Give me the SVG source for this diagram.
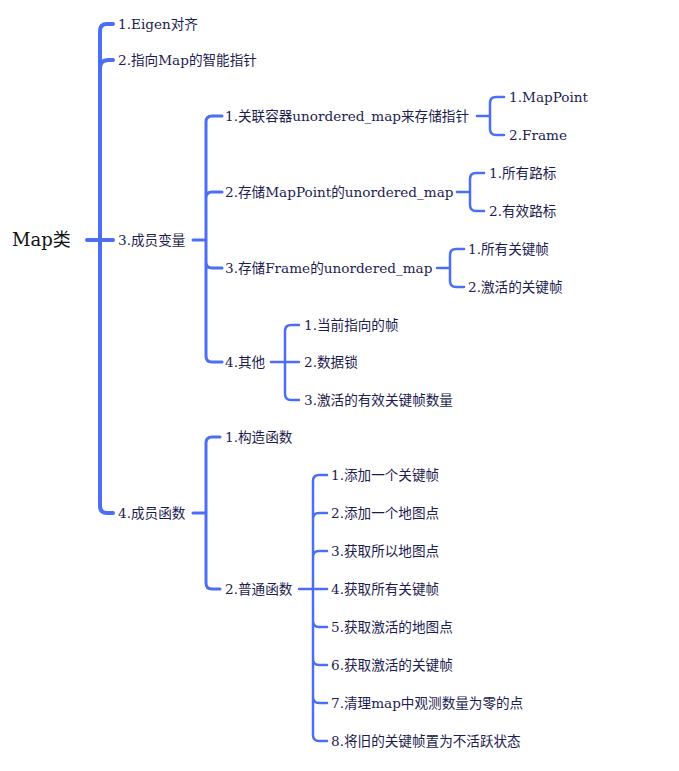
<svg xmlns="http://www.w3.org/2000/svg" width="679" height="771" viewBox="0 0 679 771">
<style>
.t{font-family:"DejaVu Serif","Noto Sans CJK SC",serif;font-size:13.6px;fill:#1c1c50}
.root{font-family:"DejaVu Serif","Noto Sans CJK SC",serif;font-size:18px;fill:#111}
.c{fill:none;stroke:#4c6ef5;stroke-linecap:round}
.w4{stroke-width:4}.w3{stroke-width:3}.w2{stroke-width:2.5}
</style>
<rect width="679" height="771" fill="#fff"/>
<g id="connectors">
<path class="c w4" d="M87,240 H113 M113,24 H107 Q100,24 100,31 V506 Q100,513 107,513 H113 M100,68 Q100,60 108,60 H113"/>
<path class="c w3" d="M193,240 H206 M222,116 H212 Q206,116 206,122 V356 Q206,362 212,362 H222 M206,198 Q206,192 212,192 H222 M206,262 Q206,268 212,268 H222"/>
<path class="c w2" d="M477,116 H490 M504,97 H496 Q490,97 490,103 V129 Q490,135 496,135 H504"/>
<path class="c w2" d="M457,192 H470 M484,173 H476 Q470,173 470,179 V205 Q470,211 476,211 H484"/>
<path class="c w2" d="M437,268 H450 M464,249 H456 Q450,249 450,255 V281 Q450,287 456,287 H464"/>
<path class="c w2" d="M271,362 H299 M299,325 H291 Q285,325 285,331 V394 Q285,400 291,400 H299"/>
<path class="c w3" d="M193,513 H206 M220,437 H212 Q206,437 206,443 V583 Q206,589 212,589 H220"/>
<path class="c w2" d="M299,589 H327 M327,475 H319 Q313,475 313,481 V735 Q313,741 319,741 H327 M313,519 Q313,513 319,513 H327 M313,557 Q313,551 319,551 H327 M313,621 Q313,627 319,627 H327 M313,659 Q313,665 319,665 H327 M313,697 Q313,703 319,703 H327"/>
</g>
<g id="root"><text class="root" x="12" y="246">Map类</text></g>
<g id="n1"><text class="t" x="118" y="29">1.Eigen对齐</text></g>
<g id="n2"><text class="t" x="118" y="65">2.指向Map的智能指针</text></g>
<g id="n3"><text class="t" x="118" y="245">3.成员变量</text></g>
<g id="n3-1"><text class="t" x="225" y="121">1.关联容器unordered_map来存储指针</text></g>
<g id="n3-1-1"><text class="t" x="509" y="102">1.MapPoint</text></g>
<g id="n3-1-2"><text class="t" x="509" y="140">2.Frame</text></g>
<g id="n3-2"><text class="t" x="225" y="197">2.存储MapPoint的unordered_map</text></g>
<g id="n3-2-1"><text class="t" x="489" y="178">1.所有路标</text></g>
<g id="n3-2-2"><text class="t" x="489" y="216">2.有效路标</text></g>
<g id="n3-3"><text class="t" x="225" y="273">3.存储Frame的unordered_map</text></g>
<g id="n3-3-1"><text class="t" x="468" y="254">1.所有关键帧</text></g>
<g id="n3-3-2"><text class="t" x="468" y="292">2.激活的关键帧</text></g>
<g id="n3-4"><text class="t" x="225" y="367">4.其他</text></g>
<g id="n3-4-1"><text class="t" x="304" y="330">1.当前指向的帧</text></g>
<g id="n3-4-2"><text class="t" x="304" y="367">2.数据锁</text></g>
<g id="n3-4-3"><text class="t" x="304" y="405">3.激活的有效关键帧数量</text></g>
<g id="n4"><text class="t" x="118" y="518">4.成员函数</text></g>
<g id="n4-1"><text class="t" x="225" y="442">1.构造函数</text></g>
<g id="n4-2"><text class="t" x="225" y="594">2.普通函数</text></g>
<g id="n4-2-1"><text class="t" x="331" y="480">1.添加一个关键帧</text></g>
<g id="n4-2-2"><text class="t" x="331" y="518">2.添加一个地图点</text></g>
<g id="n4-2-3"><text class="t" x="331" y="556">3.获取所以地图点</text></g>
<g id="n4-2-4"><text class="t" x="331" y="594">4.获取所有关键帧</text></g>
<g id="n4-2-5"><text class="t" x="331" y="632">5.获取激活的地图点</text></g>
<g id="n4-2-6"><text class="t" x="331" y="670">6.获取激活的关键帧</text></g>
<g id="n4-2-7"><text class="t" x="331" y="708">7.清理map中观测数量为零的点</text></g>
<g id="n4-2-8"><text class="t" x="331" y="746">8.将旧的关键帧置为不活跃状态</text></g>
</svg>
